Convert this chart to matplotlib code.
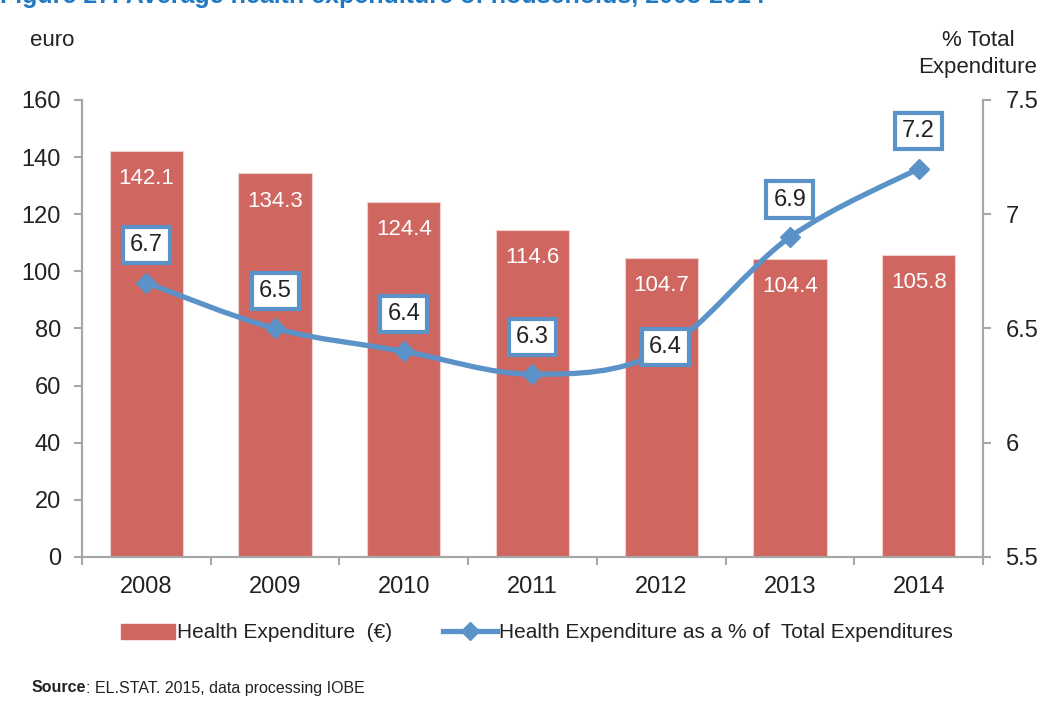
import matplotlib.pyplot as plt
from matplotlib.path import Path
from matplotlib.patches import PathPatch, Patch
from matplotlib.lines import Line2D
from matplotlib.ticker import FuncFormatter, MultipleLocator

years = ["2008", "2009", "2010", "2011", "2012", "2013", "2014"]
health_eur = [142.1, 134.3, 124.4, 114.6, 104.7, 104.4, 105.8]
health_pct = [6.7, 6.5, 6.4, 6.3, 6.4, 6.9, 7.2]

RED = "#CF6660"
BLUE = "#5B93C9"
GREY = "#A6A6A6"
TXT = "#222222"
FONT = ["Liberation Sans", "DejaVu Sans"]

plt.rcParams["font.family"] = FONT


def smooth_path(xs, ys):
    # catmull-rom style bezier, like excel's smoothed line
    pts = list(zip(xs, ys))
    verts = [pts[0]]
    codes = [Path.MOVETO]
    n = len(pts)
    for i in range(n - 1):
        p0 = pts[max(i - 1, 0)]
        p1 = pts[i]
        p2 = pts[i + 1]
        p3 = pts[min(i + 2, n - 1)]
        c1 = (p1[0] + (p2[0] - p0[0]) / 6, p1[1] + (p2[1] - p0[1]) / 6)
        c2 = (p2[0] - (p3[0] - p1[0]) / 6, p2[1] - (p3[1] - p1[1]) / 6)
        verts += [c1, c2, p2]
        codes += [Path.CURVE4] * 3
    return Path(verts, codes)


fig = plt.figure(figsize=(10.44, 7.09), dpi=100)
ax = fig.add_axes([0.0785, 0.2144, 0.8631, 0.6446])
ax2 = ax.twinx()

x = list(range(len(years)))
ax.bar(x, health_eur, width=0.57, color=RED, edgecolor="#F2D0CC", linewidth=0.8, zorder=2)
for i, v in enumerate(health_eur):
    ax.annotate(f"{v:.1f}", (i, v), xytext=(0, -20), textcoords="offset points",
                ha="center", va="center", color="white", fontsize=16)

ax.set_xlim(-0.5, len(years) - 0.5)
ax.set_ylim(0, 160)
ax.yaxis.set_major_locator(MultipleLocator(20))
ax.set_xticks(x)
ax.set_xticklabels(years)
ax.set_xticks([i - 0.5 for i in range(len(years) + 1)], minor=True)
ax.tick_params(axis="x", which="major", length=0, pad=14, labelsize=17, labelcolor=TXT)
ax.tick_params(axis="x", which="minor", length=6, width=1.5, color=GREY, direction="out")
ax.tick_params(axis="y", length=6, width=1.5, color=GREY, pad=9, labelsize=17, labelcolor=TXT)

ax2.set_ylim(5.5, 7.5)
ax2.yaxis.set_major_locator(MultipleLocator(0.5))
ax2.yaxis.set_major_formatter(FuncFormatter(lambda v, p: f"{v:g}"))
ax2.tick_params(axis="y", length=6, width=1.5, color=GREY, pad=10, labelsize=17, labelcolor=TXT)

for a in (ax, ax2):
    a.spines["top"].set_visible(False)
    for s in ("left", "right", "bottom"):
        a.spines[s].set_color(GREY)
        a.spines[s].set_linewidth(1.5)

ax2.add_patch(PathPatch(smooth_path(x, health_pct), fill=False, edgecolor=BLUE,
                        linewidth=3.8, capstyle="round", zorder=3))
ax2.plot(x, health_pct, linestyle="none", marker="D", markersize=10,
         color=BLUE, zorder=4)

offsets = [(0, 27), (0, 27), (0, 27), (0, 27), (3, 3), (0, 27), (0, 27)]
box = dict(boxstyle="square,pad=0.3", facecolor="white", edgecolor=BLUE, linewidth=3)
for i, v in enumerate(health_pct):
    ax2.annotate(f"{v:g}", (i, v), xytext=offsets[i], textcoords="offset points",
                 ha="center", va="center", fontsize=17, color=TXT, bbox=box, zorder=5)

fig.text(30 / 1044, 1 - 40 / 709, "euro", fontsize=16, color=TXT, va="center", ha="left")
fig.text(978 / 1044, 1 - 40 / 709, "% Total", fontsize=16, color=TXT, va="center", ha="center")
fig.text(978 / 1044, 1 - 68 / 709, "Expenditure", fontsize=16, color=TXT, va="center", ha="center")

# title is clipped at the top edge in the original
fig.text(0.0, 1 - 3 / 709, "Figure 27: Average health expenditure of households, 2008-2014",
         fontsize=18, fontweight="bold", color="#1F78C1", va="baseline", ha="left")

handles = [Patch(facecolor=RED, edgecolor=RED),
           Line2D([0], [0], color=BLUE, linewidth=3.8, marker="D", markersize=9)]
labels = ["Health Expenditure  (\u20ac)", "Health Expenditure as a % of  Total Expenditures"]
fig.legend(handles, labels, loc="center", bbox_to_anchor=(537 / 1044, 1 - 633 / 709),
           ncol=2, frameon=False, fontsize=15, handlelength=2.6, handletextpad=0.1,
           columnspacing=2.4, labelcolor=TXT)

src = fig.text(32 / 1044, 1 - 688 / 709, "Source", fontsize=11.5, fontweight="bold",
               color=TXT, va="center", ha="left")
ax.annotate(": EL.STAT. 2015, data processing IOBE", xy=(1, 0.5), xycoords=src,
            fontsize=11.5, color=TXT, va="center", ha="left", annotation_clip=False)

fig.savefig("out.png", dpi=100)
